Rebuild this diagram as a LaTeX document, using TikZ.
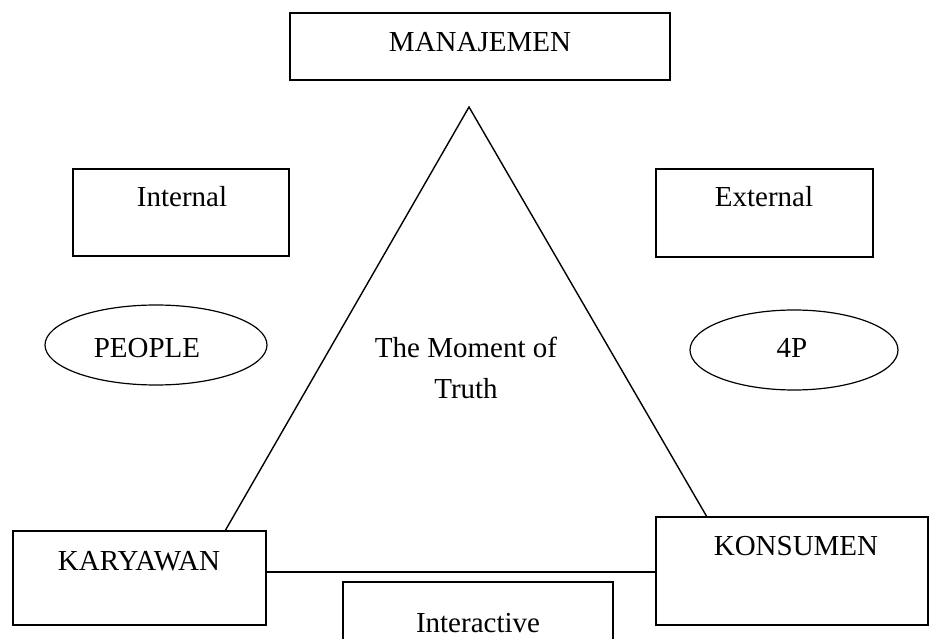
\documentclass[tikz,border=0pt]{standalone}
\usepackage{fontspec}
\setmainfont{Liberation Serif}
\usetikzlibrary{shapes.geometric}
\begin{document}
\begin{tikzpicture}[x=1pt,y=-1pt,
  box/.style={draw,line width=1.4pt,rectangle,inner sep=0pt,outer sep=0pt,anchor=north west},
  oval/.style={draw,line width=1.2pt,ellipse,inner sep=0pt,outer sep=0pt},
  lbl/.style={font=\fontsize{29}{34}\selectfont,anchor=base,inner sep=0pt},
  conn/.style={line width=1.4pt}]
\useasboundingbox (0,0) rectangle (930,639);
% boxes
\node[box,minimum width=380pt,minimum height=67pt] (man) at (290,13) {};
\node[box,minimum width=216pt,minimum height=87pt] (int) at (73,169) {};
\node[box,minimum width=217pt,minimum height=88pt] (ext) at (656,169) {};
\node[box,minimum width=253pt,minimum height=94pt] (kar) at (13,531) {};
\node[box,minimum width=272pt,minimum height=108pt] (kon) at (656,517) {};
\node[box,minimum width=270pt,minimum height=80pt] (inter) at (343,582) {};
% ellipses
\node[oval,minimum width=222pt,minimum height=80pt] (people) at (156,345) {};
\node[oval,minimum width=208pt,minimum height=80pt] (fourp) at (794,350) {};
% labels
\node[lbl] (tman) at (480,52) {MANAJEMEN};
\node[lbl] (tint) at (182,207) {Internal};
\node[lbl] (text) at (764,207) {External};
\node[lbl] (tkar) at (139,570) {KARYAWAN};
\node[lbl] (tkon) at (796,555) {KONSUMEN};
\node[lbl] (tinter) at (478,632) {Interactive};
\node[lbl] (tpeople) at (147,357) {PEOPLE};
\node[lbl] (tfourp) at (792,358) {4P};
\node[lbl] (tmom1) at (466,357) {The Moment of};
\node[lbl] (tmom2) at (466,399) {Truth};
% triangle
\coordinate (apex) at (469,107);
\path (kar.north west) ++(212,0) coordinate (kl);
\path (kon.north west) ++(51,0) coordinate (kr);
\draw[conn] (kl) -- (apex) -- (kr);
% base connector
\draw[conn] (kar.east |- 0,572) -- (kon.west |- 0,572);
\end{tikzpicture}
\end{document}
